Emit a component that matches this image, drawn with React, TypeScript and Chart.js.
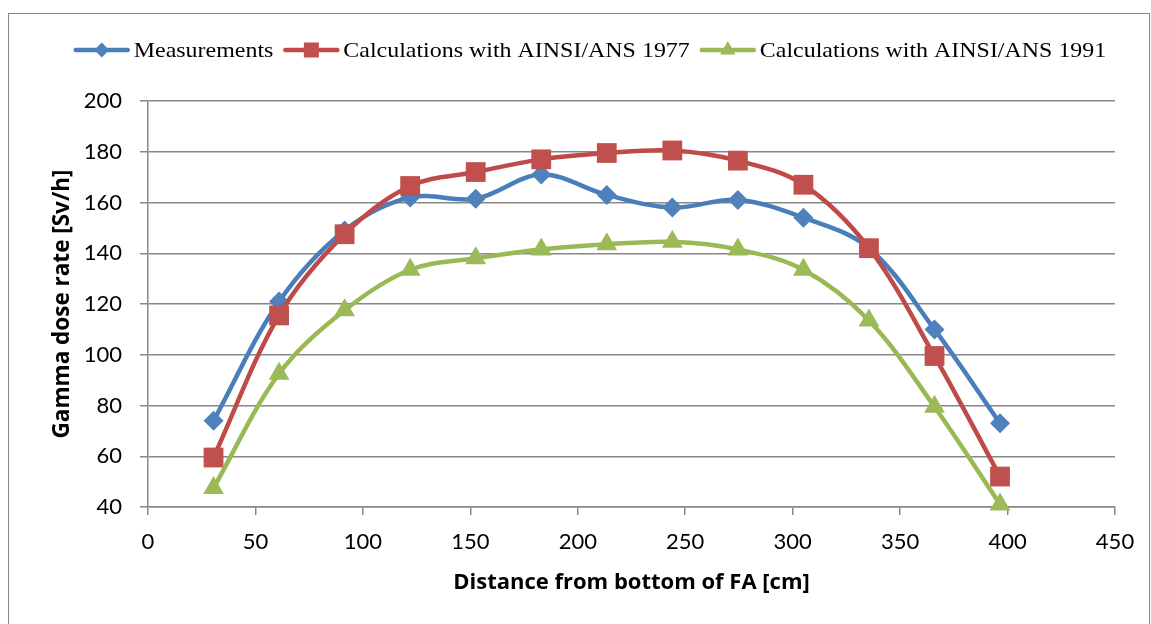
import React, { useEffect, useRef } from "react";
import { Chart, registerables } from "chart.js";

Chart.register(...registerables);

const distances = [30.5, 61, 91.5, 122, 152.5, 183, 213.5, 244, 274.5, 305, 335.5, 366, 396.5];
const measurements = [74, 121, 149, 162, 161.5, 171, 163, 158, 161, 154, 142, 110, 73];
const calc1977 = [59.5, 115.5, 147.5, 166.5, 172, 177, 179.5, 180.5, 176.5, 167, 142, 99.5, 52];
const calc1991 = [47.5, 92.5, 117.5, 133.5, 138, 141.5, 143.5, 144.5, 141.5, 133.5, 113.5, 79.5, 41];

const seriesLabels = ["Measurements", "Calculations with AINSI/ANS 1977", "Calculations with AINSI/ANS 1991"];
const lineColors = ["#4A7EBB", "#BE4B48", "#98B954"];
const markerColors = ["#4F81BD", "#C0504D", "#9BBB59"];
const markerStyles = ["rectRot", "rect", "triangle"];

const xTitle = "Distance from bottom of FA [cm]";
const yTitle = "Gamma dose rate [Sv/h]";

function drawMarker(ctx: CanvasRenderingContext2D, style: string, x: number, y: number, color: string) {
  ctx.fillStyle = color;
  ctx.beginPath();
  if (style === "rectRot") {
    const r = 7.5;
    ctx.moveTo(x - r, y);
    ctx.lineTo(x, y - r);
    ctx.lineTo(x + r, y);
    ctx.lineTo(x, y + r);
  } else if (style === "rect") {
    const s = 7.5;
    ctx.rect(x - s, y - s, 2 * s, 2 * s);
  } else {
    const r = 9;
    ctx.moveTo(x, y - r);
    ctx.lineTo(x + r * 0.866, y + r * 0.5);
    ctx.lineTo(x - r * 0.866, y + r * 0.5);
  }
  ctx.closePath();
  ctx.fill();
}

const legendPlugin = {
  id: "customLegend",
  afterDraw(chart: any) {
    const ctx: CanvasRenderingContext2D = chart.ctx;
    ctx.save();
    const fontSize = 21;
    const sx = 1.14;
    ctx.font = `${fontSize}px "Liberation Serif", "Times New Roman", serif`;
    const lineLen = 56;
    const gapText = 4;
    const gapItem = 10;
    const widths = seriesLabels.map((t) => ctx.measureText(t).width * sx);
    const total = widths.reduce((a, w) => a + lineLen + gapText + w, 0) + gapItem * (seriesLabels.length - 1);
    const cx = 582;
    const cy = 42;
    let x = cx - total / 2;
    seriesLabels.forEach((label, i) => {
      ctx.strokeStyle = lineColors[i];
      ctx.lineWidth = 4.5;
      ctx.lineCap = "round";
      ctx.beginPath();
      ctx.moveTo(x + 2, cy);
      ctx.lineTo(x + lineLen - 2, cy);
      ctx.stroke();
      drawMarker(ctx, markerStyles[i], x + lineLen / 2, cy, markerColors[i]);
      x += lineLen + gapText;
      ctx.save();
      ctx.translate(x, cy);
      ctx.scale(sx, 1);
      ctx.fillStyle = "#000";
      ctx.textBaseline = "middle";
      ctx.textAlign = "left";
      ctx.fillText(label, 0, 1);
      ctx.restore();
      x += widths[i] + gapItem;
    });
    ctx.restore();
  },
};

export default function App() {
  const canvasRef = useRef<HTMLCanvasElement | null>(null);

  useEffect(() => {
    if (!canvasRef.current) return;
    const seriesValues = [measurements, calc1977, calc1991];
    const chart = new Chart(canvasRef.current, {
      type: "line",
      data: {
        datasets: seriesValues.map((vals, i) => ({
          label: seriesLabels[i],
          data: distances.map((d, j) => ({ x: d, y: vals[j] })),
          borderColor: lineColors[i],
          backgroundColor: markerColors[i],
          borderWidth: 4.5,
          tension: 0.35,
          pointStyle: markerStyles[i] as any,
          pointRadius: i === 0 ? 10 : i === 1 ? 14 : 12,
          pointBackgroundColor: markerColors[i],
          pointBorderWidth: 0,
          pointHoverRadius: i === 0 ? 10 : i === 1 ? 14 : 12,
          fill: false,
          clip: false as any,
          order: 3 - i,
        })),
      },
      options: {
        animation: false,
        responsive: true,
        maintainAspectRatio: false,
        layout: { padding: { top: 93, right: 28, left: 0, bottom: 0 } },
        plugins: {
          legend: { display: false },
          tooltip: { enabled: false },
        },
        scales: {
          x: {
            type: "linear",
            min: 0,
            max: 450,
            ticks: {
              stepSize: 50,
              color: "#000",
              padding: 14,
              font: { family: "Lato", size: 22 },
              maxRotation: 0,
            },
            grid: {
              drawOnChartArea: false,
              drawTicks: true,
              tickLength: 8,
              color: "#878787",
              lineWidth: 1.5,
            },
            border: { display: true, color: "#878787", width: 1.5 },
            title: {
              display: true,
              text: xTitle,
              color: "#000",
              font: { family: "Open Sans", size: 22, weight: "bold" },
              padding: { top: 0, bottom: 20 },
            },
            afterFit: (scale: any) => {
              scale.height = 109;
              scale.paddingLeft = 0;
              scale.paddingRight = 0;
            },
          },
          y: {
            type: "linear",
            min: 40,
            max: 200,
            ticks: {
              stepSize: 20,
              color: "#000",
              padding: 18,
              font: { family: "Lato", size: 22 },
            },
            grid: {
              drawOnChartArea: true,
              drawTicks: true,
              tickLength: 8,
              color: "#878787",
              lineWidth: 1.5,
            },
            border: { display: true, color: "#878787", width: 1.5 },
            title: {
              display: true,
              text: yTitle,
              color: "#000",
              font: { family: "Open Sans", size: 22.5, weight: "bold" },
              padding: { top: 41, bottom: 0 },
            },
            afterFit: (scale: any) => {
              scale.width = 140;
              scale.paddingTop = 0;
              scale.paddingBottom = 0;
            },
          },
        },
      },
      plugins: [legendPlugin],
    });
    return () => chart.destroy();
  }, []);

  return (
    <div style={{ position: "relative", width: "100%", height: "608px" }}>
      <canvas ref={canvasRef} />
      <div
        style={{
          position: "fixed",
          left: "8px",
          top: "13px",
          width: "1142px",
          height: "700px",
          border: "1.5px solid #878787",
          boxSizing: "border-box",
          pointerEvents: "none",
        }}
      />
    </div>
  );
}
